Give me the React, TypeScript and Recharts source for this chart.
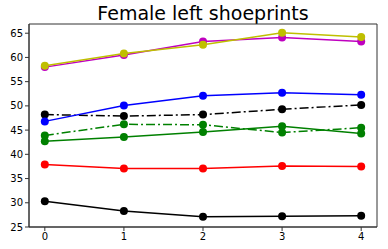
import { LineChart, Line, XAxis, YAxis, ReferenceArea } from "recharts";

const sessions = [0, 1, 2, 3, 4];
const blackSolid = [30.3, 28.3, 27.1, 27.2, 27.3];
const red = [37.9, 37.1, 37.1, 37.6, 37.5];
const greenSolid = [42.7, 43.6, 44.6, 45.8, 44.3];
const greenDashDot = [43.9, 46.2, 46.1, 44.5, 45.5];
const blackDashDot = [48.2, 47.9, 48.2, 49.3, 50.2];
const blue = [46.8, 50.1, 52.1, 52.7, 52.3];
const magenta = [58.0, 60.5, 63.3, 64.1, 63.3];
const yellow = [58.3, 60.8, 62.6, 65.1, 64.2];
const yTicks = [25, 30, 35, 40, 45, 50, 55, 60, 65];

const data = sessions.map((s, i) => ({
  x: s,
  k: blackSolid[i],
  r: red[i],
  g: greenSolid[i],
  gd: greenDashDot[i],
  kd: blackDashDot[i],
  b: blue[i],
  m: magenta[i],
  y: yellow[i],
}));

const series = [
  { key: "k", color: "#000000", dash: undefined },
  { key: "r", color: "#ff0000", dash: undefined },
  { key: "g", color: "#008000", dash: undefined },
  { key: "gd", color: "#008000", dash: "9 3 2 3" },
  { key: "kd", color: "#000000", dash: "9 3 2 3" },
  { key: "b", color: "#0000ff", dash: undefined },
  { key: "m", color: "#bf00bf", dash: undefined },
  { key: "y", color: "#bfbf00", dash: undefined },
];

const tickStyle = { fontSize: 10, fill: "#000", fontFamily: "DejaVu Sans" };

export default function App() {
  return (
    <div style={{ position: "absolute", left: 0, top: 0, width: 388, height: 249, background: "#fff" }}>
      <div
        style={{
          position: "absolute",
          left: 29,
          width: 348,
          top: 2,
          textAlign: "center",
          fontFamily: "DejaVu Sans",
          fontSize: 19,
          lineHeight: "22px",
          color: "#000",
        }}
      >
        Female left shoeprints
      </div>
      <LineChart width={388} height={249} data={data} margin={{ top: 24, right: 11, bottom: 0, left: 0 }}>
        <XAxis
          dataKey="x"
          type="number"
          domain={[-0.2, 4.2]}
          ticks={sessions}
          allowDataOverflow
          height={22}
          tick={tickStyle}
          tickSize={4}
          tickMargin={2}
          stroke="#333"
          interval={0}
        />
        <YAxis
          type="number"
          domain={[25, 66.9]}
          ticks={yTicks}
          allowDataOverflow
          width={29}
          tick={tickStyle}
          tickSize={4}
          tickMargin={2}
          stroke="#333"
          interval={0}
        />
        <ReferenceArea x1={-0.2} x2={4.2} y1={25} y2={66.9} fill="none" stroke="#333" strokeWidth={1} />
        {series.map((s) => (
          <Line
            key={s.key}
            dataKey={s.key}
            type="linear"
            stroke={s.color}
            strokeWidth={1.5}
            strokeDasharray={s.dash}
            dot={{ r: 4, fill: s.color, stroke: s.color, strokeWidth: 0, strokeDasharray: "" }}
            activeDot={false}
            isAnimationActive={false}
          />
        ))}
      </LineChart>
    </div>
  );
}
